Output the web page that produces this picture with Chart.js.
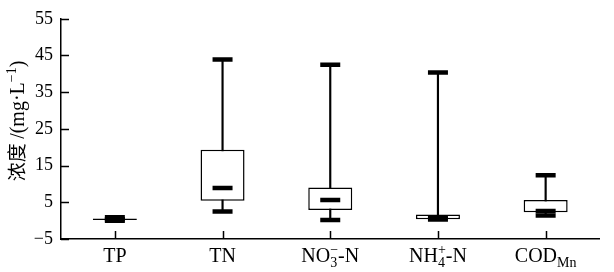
<!DOCTYPE html>
<html>
<head>
<meta charset="utf-8">
<script src="https://cdn.jsdelivr.net/npm/chart.js@4/dist/chart.umd.min.js"></script>
<style>
  html, body { margin: 0; padding: 0; background: #fff; }
  #wrap { width: 614px; height: 272px; }
</style>
</head>
<body>
<div id="wrap"><canvas id="myChart" width="614" height="272"></canvas></div>
<script>
// box plot statistics per parameter (mg/L)
let categories = ['TP', 'TN', 'NO3-N', 'NH4-N', 'CODMn'];
let minVals    = [0.0, 2.5, 0.2, 0.3, 1.4];
let q1Vals     = [0.15, 5.4, 2.9, 0.35, 2.3];
let medianVals = [0.35, 8.9, 5.6, 0.9, 2.65];
let q3Vals     = [0.6, 19.3, 9.0, 1.65, 5.6];
let maxVals    = [0.95, 43.9, 42.5, 40.4, 12.4];
let yTicks     = [-5, 5, 15, 25, 35, 45, 55];

// how each label is written (sub/superscripts)
let labelParts = [
  [{t: 'TP'}],
  [{t: 'TN'}],
  [{t: 'NO'}, {sub: '3', sup: '\u2212'}, {t: '-N'}],
  [{t: 'NH'}, {sub: '4', sup: '+'}, {t: '-N'}],
  [{t: 'COD'}, {sub: 'Mn'}]
];
let yTitleParts = [{t: '浓度 ', cjk: true}, {t: '/(mg·L'}, {sup: '\u22121'}, {t: ')'}];

const serif = "'Liberation Serif', 'Times New Roman', serif";
const cjk = "'Noto Sans CJK SC', sans-serif";
Chart.defaults.font.family = serif;
Chart.defaults.color = '#000';

function partWidths(ctx, parts, main, small, cjkFont) {
  return parts.map(p => {
    if (p.t) { ctx.font = p.cjk ? cjkFont : main; return ctx.measureText(p.t).width; }
    ctx.font = small;
    return Math.max(p.sub ? ctx.measureText(p.sub).width : 0,
                    p.sup ? ctx.measureText(p.sup).width : 0);
  });
}
function drawParts(ctx, parts, widths, x, base, main, small, cjkFont) {
  parts.forEach((p, k) => {
    if (p.t) {
      ctx.font = p.cjk ? cjkFont : main;
      ctx.fillText(p.t, x, base);
    } else {
      ctx.font = small;
      if (p.sub) ctx.fillText(p.sub, x, base + 5);
      if (p.sup) ctx.fillText(p.sup, x, base - 8);
    }
    x += widths[k];
  });
}

// inward ticks, category labels and the y title
const axisExtras = {
  id: 'axisExtras',
  afterDraw(chart) {
    const {ctx, chartArea, scales: {x, y}} = chart;
    ctx.save();
    ctx.strokeStyle = '#000';
    ctx.lineWidth = 1.5;
    ctx.beginPath();
    y.ticks.forEach(t => {
      const py = Math.round(y.getPixelForValue(t.value)) + 0.5;
      ctx.moveTo(chartArea.left, py);
      ctx.lineTo(chartArea.left + 8, py);
    });
    categories.forEach((c, i) => {
      const px = Math.round(x.getPixelForValue(i)) + 0.5;
      ctx.moveTo(px, chartArea.bottom);
      ctx.lineTo(px, chartArea.bottom - 8);
    });
    ctx.stroke();

    ctx.fillStyle = '#000';
    ctx.textAlign = 'left';
    ctx.textBaseline = 'alphabetic';
    const main = '20px ' + serif, small = '14px ' + serif;
    const base = chartArea.bottom + 23;
    labelParts.forEach((parts, i) => {
      const w = partWidths(ctx, parts, main, small);
      const total = w.reduce((a, b) => a + b, 0);
      drawParts(ctx, parts, w, x.getPixelForValue(i) - total / 2, base, main, small);
    });

    // rotated y axis title
    const tMain = '20px ' + serif, tSmall = '14px ' + serif, tCjk = '19px ' + cjk;
    const w = partWidths(ctx, yTitleParts, tMain, tSmall, tCjk);
    const total = w.reduce((a, b) => a + b, 0);
    ctx.translate(24, (chartArea.top + chartArea.bottom) / 2 - 8);
    ctx.rotate(-Math.PI / 2);
    drawParts(ctx, yTitleParts, w, -total / 2, 0, tMain, tSmall, tCjk);
    ctx.restore();
  }
};

let ctx = document.getElementById('myChart').getContext('2d');

const myChart = new Chart(ctx, {
  type: 'bar',
  data: {
    labels: categories,
    datasets: [{
      label: 'whisker',
      data: categories.map((c, i) => [minVals[i], maxVals[i]]),
      backgroundColor: '#000',
      grouped: false,
      categoryPercentage: 1,
      barPercentage: 1,
      maxBarThickness: 1.5,
      order: 3
    }, {
      label: 'box',
      data: categories.map((c, i) => [q1Vals[i], q3Vals[i]]),
      backgroundColor: '#fff',
      borderColor: '#000',
      borderWidth: 1.5,
      borderSkipped: false,
      inflateAmount: 0,
      grouped: false,
      categoryPercentage: 1,
      barPercentage: 1,
      maxBarThickness: 44,
      order: 2
    }, {
      type: 'line',
      label: 'min',
      data: minVals,
      showLine: false,
      pointStyle: 'line',
      pointRadius: 10,
      pointBorderWidth: 4.5,
      pointBorderColor: '#000',
      order: 1
    }, {
      type: 'line',
      label: 'max',
      data: maxVals,
      showLine: false,
      pointStyle: 'line',
      pointRadius: 10,
      pointBorderWidth: 4.5,
      pointBorderColor: '#000',
      order: 1
    }, {
      type: 'line',
      label: 'median',
      data: medianVals,
      showLine: false,
      pointStyle: 'line',
      pointRadius: 10,
      pointBorderWidth: 4.5,
      pointBorderColor: '#000',
      order: 1
    }]
  },
  options: {
    responsive: false,
    animation: false,
    layout: { padding: { left: 0, right: 9, top: 14, bottom: 0 } },
    plugins: { legend: { display: false }, tooltip: { enabled: false } },
    scales: {
      x: {
        offset: true,
        grid: { display: false, drawTicks: false },
        border: { display: true, color: '#000', width: 1.5 },
        ticks: { display: false },
        afterFit: s => { s.height = 33; }
      },
      y: {
        min: -5,
        max: 55,
        afterBuildTicks: s => { s.ticks = yTicks.map(v => ({value: v})); },
        grid: { display: false, drawTicks: false },
        border: { display: true, color: '#000', width: 1.5 },
        ticks: {
          padding: 8,
          font: { size: 18 },
          callback: v => v < 0 ? '\u2212' + Math.abs(v) : String(v)
        },
        afterFit: s => { s.width = 61; }
      }
    }
  },
  plugins: [axisExtras]
});
</script>
</body>
</html>
